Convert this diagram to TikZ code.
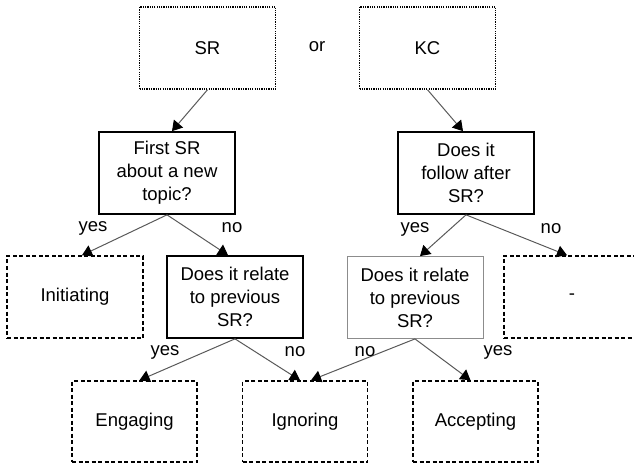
\documentclass[tikz,border=0pt]{standalone}
\usepackage{fontspec}
\setmainfont{Liberation Sans}
\usetikzlibrary{arrows.meta}
\begin{document}
\begin{tikzpicture}[x=1pt, y=1pt,
        every node/.style={font=\fontsize{18.5}{23}\selectfont},
        box/.style={draw, align=center, inner sep=0pt, minimum width=136pt, minimum height=82pt},
        leaf/.style={box, minimum width=125pt, minimum height=81pt},
        dotbox/.style={line width=1.5pt, dash pattern=on 1.2pt off 1.1pt},
        dashbox/.style={line width=1.5pt, dash pattern=on 4pt off 2.5pt},
        askbox/.style={line width=1.7pt},
        link/.style={draw=black!65, line width=1pt, -{Triangle[width=12pt,length=10pt,color=black]}}]
        \useasboundingbox (0,0) rectangle (634,464);

        % Верхний ряд: SR или KC
        \node[box, dotbox] (sr) at (207.5, 416) {SR};
        \node (or) at (317, 417) {or};
        \node[box, dotbox] (kc) at (427.5, 416) {KC};

        % Первые вопросы
        \node[box, askbox] (first) at (167, 291) {First SR\\about a new\\topic?};
        \node[box, askbox] (follow) at (466, 291) {Does it\\follow after\\SR?};

        % Второй ряд
        \node[box, dashbox] (init) at (75, 167) {Initiating};
        \node[box, askbox] (relL) at (235, 167) {Does it relate\\to previous\\SR?};
        \node[box, draw=black!45, line width=0.8pt] (relR) at (415, 166.5) {Does it relate\\to previous\\SR?};
        \node[box, dashbox] (none) at (572, 167) {-};

        % Нижний ряд
        \node[leaf, dashbox] (eng) at (134.5, 42.5) {Engaging};
        \node[leaf, dashbox] (ign) at (305, 42.5) {Ignoring};
        \node[leaf, dashbox] (acc) at (475.5, 42.5) {Accepting};

        % Стрелки
        \draw[link] (sr.south) -- ([xshift=5pt]first.north);
        \draw[link] (kc.south) -- ([xshift=-3pt]follow.north);
        \draw[link] (first.south) -- ([xshift=7pt]init.north);
        \draw[link] (first.south) -- ([xshift=-7pt]relL.north);
        \draw[link] (follow.south) -- ([xshift=5pt]relR.north);
        \draw[link] (follow.south) -- ([xshift=-5pt]none.north);
        \draw[link] (relL.south) -- ([xshift=5pt]eng.north);
        \draw[link] (relL.south) -- ([xshift=-5pt]ign.north);
        \draw[link] (relR.south) -- ([xshift=6pt]ign.north);
        \draw[link] (relR.south) -- ([xshift=-5pt]acc.north);

        % Подписи yes / no
        \node (yesA) at (93, 236) {yes};
        \node (noA) at (232, 236) {no};
        \node (yesB) at (415, 235) {yes};
        \node (noB) at (551, 235) {no};
        \node (yesC) at (165, 112) {yes};
        \node (noC) at (295, 112) {no};
        \node (noD) at (365, 112) {no};
        \node (yesD) at (498, 112) {yes};

    \end{tikzpicture}
\end{document}
